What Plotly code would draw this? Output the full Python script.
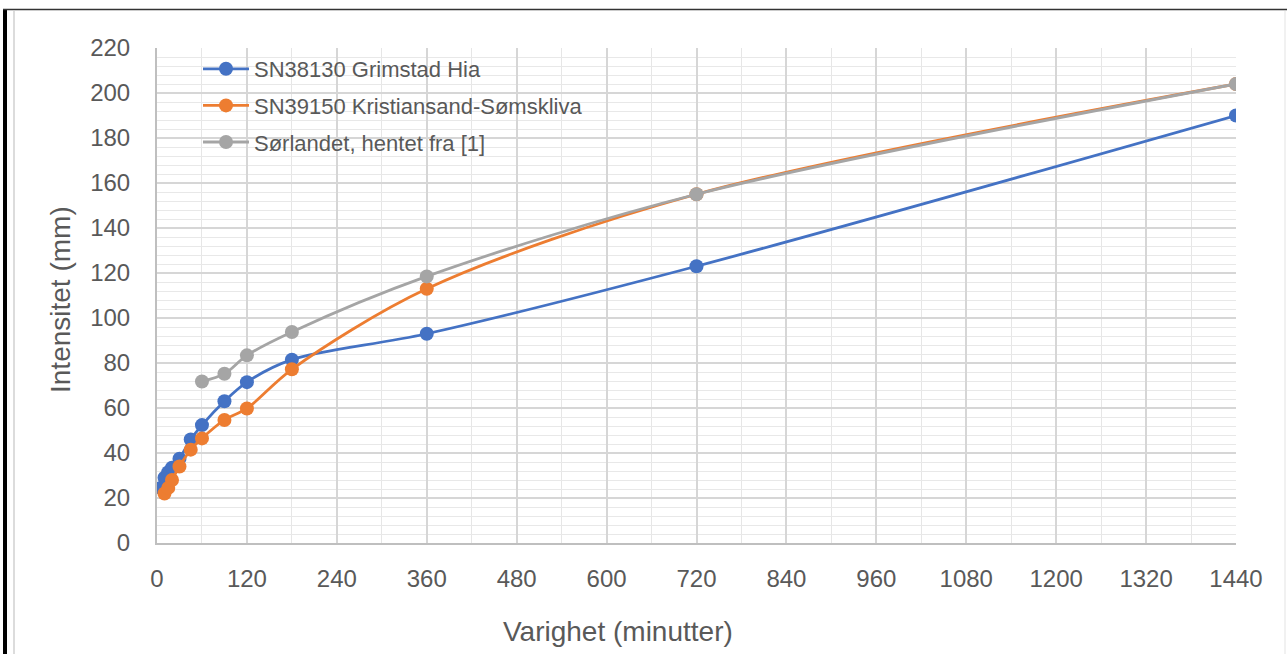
import plotly.graph_objects as go

# Duration (minutes) and intensity (mm) for each station / source
dur_grimstad = [5, 10, 15, 20, 30, 45, 60, 90, 120, 180, 360, 720, 1440]
val_grimstad = [24.5, 29, 31.5, 33.5, 37.5, 46, 52.4, 63, 71.5, 81.5, 93, 123, 190]

dur_kristiansand = [10, 15, 20, 30, 45, 60, 90, 120, 180, 360, 720, 1440]
val_kristiansand = [22, 24.5, 28, 34, 41.5, 46.5, 54.7, 59.8, 77.2, 113, 155, 204]

dur_sorlandet = [60, 90, 120, 180, 360, 720, 1440]
val_sorlandet = [71.8, 75.2, 83.4, 93.8, 118.5, 155, 204]

names = ["SN38130 Grimstad Hia", "SN39150 Kristiansand-Sømskliva", "Sørlandet, hentet fra [1]"]
colors = ["#4472C4", "#ED7D31", "#A5A5A5"]

x_ticks = list(range(0, 1441, 120))
y_ticks = list(range(0, 221, 20))

W, H = 1287, 654
L, R, T, B = 157, 51, 48, 111
FONT = "Liberation Sans, Arial, sans-serif"
TXT = "#595959"


def px_x(p):
    return (p - L) / (W - L - R)


def px_y(p):
    return 1 - (p - T) / (H - T - B)


fig = go.Figure()
series = [(dur_grimstad, val_grimstad), (dur_kristiansand, val_kristiansand), (dur_sorlandet, val_sorlandet)]
for i, ((xs, ys), name, col) in enumerate(zip(series, names, colors)):
    fig.add_trace(go.Scatter(
        x=xs, y=ys, name=name, mode="lines+markers",
        line=dict(color=col, width=2.8, shape="spline", smoothing=0.9),
        marker=dict(color=col, size=14),
        legendgroup=f"g{i}",
    ))

fig.update_layout(
    width=W, height=H,
    margin=dict(l=L, r=R, t=T, b=B),
    paper_bgcolor="white", plot_bgcolor="white",
    font=dict(family=FONT, color=TXT),
    showlegend=True,
    legend=dict(
        x=px_x(198), y=px_y(48),
        xanchor="left", yanchor="top",
        bgcolor="rgba(0,0,0,0)", borderwidth=0,
        font=dict(size=22, color=TXT, family=FONT),
        tracegroupgap=5, itemwidth=46,
    ),
)

fig.update_xaxes(
    range=[0, 1440], tickvals=x_ticks, ticktext=[str(v) for v in x_ticks],
    showgrid=True, gridcolor="#d6d6d6", gridwidth=1.5,
    minor=dict(dtick=60, showgrid=True, gridcolor="#e6e6e6", gridwidth=1),
    showline=True, linecolor="#bfbfbf", linewidth=2,
    ticks="", ticklabelstandoff=13,
    tickfont=dict(size=24, color=TXT, family=FONT),
    zeroline=False,
)
fig.update_yaxes(
    range=[0, 220], tickvals=y_ticks, ticktext=[str(v) for v in y_ticks],
    showgrid=True, gridcolor="#d6d6d6", gridwidth=1.5,
    minor=dict(dtick=4, showgrid=True, gridcolor="#e8e8e8", gridwidth=1),
    showline=True, linecolor="#bfbfbf", linewidth=2,
    ticks="", ticklabelstandoff=20,
    tickfont=dict(size=24, color=TXT, family=FONT),
    zeroline=False,
)

# Axis titles placed in pixel coordinates of the page
fig.add_annotation(text="Varighet (minutter)", xref="paper", yref="paper",
                   x=px_x(618), y=px_y(631),
                   showarrow=False, xanchor="center", yanchor="middle",
                   font=dict(size=28, color=TXT, family=FONT))
fig.add_annotation(text="Intensitet (mm)", xref="paper", yref="paper",
                   x=px_x(60), y=px_y(300),
                   showarrow=False, xanchor="center", yanchor="middle", textangle=-90,
                   font=dict(size=28, color=TXT, family=FONT))

# Page frame around the chart
fig.add_shape(type="line", xref="paper", yref="paper", x0=px_x(5), x1=px_x(5), y0=px_y(9), y1=px_y(H + 5),
              line=dict(color="black", width=4))
fig.add_shape(type="line", xref="paper", yref="paper", x0=px_x(3), x1=px_x(W + 5), y0=px_y(9.5), y1=px_y(9.5),
              line=dict(color="#333333", width=1.5))
fig.add_shape(type="line", xref="paper", yref="paper", x0=px_x(14), x1=px_x(14), y0=px_y(11), y1=px_y(H + 5),
              line=dict(color="#d0d0d0", width=1.5))
fig.add_shape(type="line", xref="paper", yref="paper", x0=px_x(1285), x1=px_x(1285), y0=px_y(11), y1=px_y(H + 5),
              line=dict(color="#ececec", width=1.5))

fig.write_html("out.html")
